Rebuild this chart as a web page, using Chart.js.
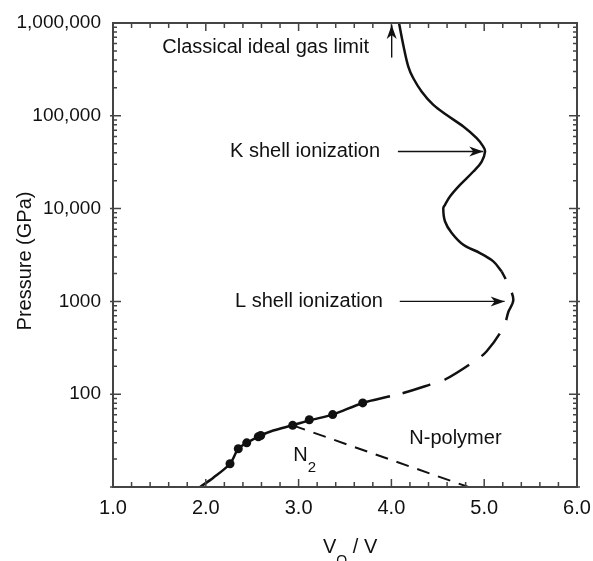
<!DOCTYPE html>
<html>
<head>
<meta charset="utf-8">
<script src="https://cdn.jsdelivr.net/npm/chart.js@4"></script>
<style>
html,body{margin:0;padding:0;background:#fff;}
canvas{display:block;}
</style>
</head>
<body>
<canvas id="eos" width="593" height="561"></canvas>
<script>
// nitrogen compression curve, V0/V against pressure (GPa)
const lowX  = [1.938, 2.081, 2.261, 2.350, 2.441, 2.573, 2.727, 2.936, 3.123, 3.367, 3.691, 3.985];
const lowY  = [10, 12.6, 17.8, 25.8, 29.9, 35.2, 40.6, 46.2, 52.4, 60.3, 80.5, 94.9];
const midX  = [3.985, 4.128, 4.416, 4.578, 4.865, 5.027, 5.213, 5.260, 5.314, 5.260, 5.189];
const midY  = [94.9, 103, 127, 144, 217, 290, 538, 769, 1040, 1510, 2100];
const highX = [5.189, 5.098, 4.955, 4.775, 4.650, 4.578, 4.559, 4.578, 4.631, 4.739, 4.883, 4.973, 5.009, 4.990, 4.919, 4.775, 4.596, 4.452, 4.327, 4.236, 4.182, 4.128, 4.082];
const highY = [2100, 2700, 3320, 4070, 5450, 7260, 10100, 11000, 13500, 18000, 25100, 32100, 41200, 46600, 57400, 76600, 102000, 131000, 182000, 254000, 339000, 579000, 1000000];
const dotX  = [2.261, 2.350, 2.441, 2.566, 2.592, 2.936, 3.115, 3.367, 3.691];
const dotY  = [17.8, 25.8, 29.9, 34.8, 35.9, 46.2, 53.1, 60.3, 80.5];
const phaseX = [2.936, 4.829];
const phaseY = [46.2, 10];

const xTicks = [1, 2, 3, 4, 5, 6];
const yTicks = [100, 1000, 10000, 100000, 1000000];
const yTickLabels = ['100', '1000', '10,000', '100,000', '1,000,000'];

const FONT = '"Liberation Sans", Arial, sans-serif';
const INK = '#111';
const AXIS = '#444';

const pts = (xs, ys) => xs.map((x, i) => ({ x, y: ys[i] }));

// annotation text (left edge, baseline) and arrows, in data units
const notes = [
  { text: 'Classical ideal gas limit', x: 1.531, y: 472000 },
  { text: 'K shell ionization', x: 2.261, y: 35800 },
  { text: 'L shell ionization', x: 2.315, y: 871 },
  { text: 'N-polymer', x: 4.193, y: 29.4 },
  { text: 'N', sub: '2', x: 2.943, y: 19.0 }
];
const arrows = [
  { from: [4.003, 424000], to: [4.003, 950000] },
  { from: [4.07, 41200], to: [4.99, 41200] },
  { from: [4.09, 1000], to: [5.22, 1000] }
];

function arrowHead(ctx, x1, y1, x2, y2){
  const a = Math.atan2(y2 - y1, x2 - x1), L = 14, W = 5, N = 10;
  const c = Math.cos(a), s = Math.sin(a);
  ctx.beginPath();
  ctx.moveTo(x2, y2);
  ctx.lineTo(x2 - L*c + W*s, y2 - L*s - W*c);
  ctx.lineTo(x2 - N*c, y2 - N*s);
  ctx.lineTo(x2 - L*c - W*s, y2 - L*s + W*c);
  ctx.closePath();
  ctx.fill();
}

const frame = {
  id: 'frame',
  afterDatasetsDraw(chart){
    const { ctx, chartArea: a, scales: { x, y } } = chart;
    ctx.save();
    ctx.strokeStyle = AXIS;
    ctx.lineWidth = 1.5;
    ctx.beginPath();
    for (let i = 0; i <= 25; i++){
      const px = x.getPixelForValue(1 + i*0.2);
      const len = i % 5 === 0 ? 8 : 5;
      ctx.moveTo(px, a.bottom); ctx.lineTo(px, a.bottom - len);
      ctx.moveTo(px, a.top); ctx.lineTo(px, a.top + len);
    }
    for (let d = 10; d < 1e6; d *= 10){
      for (let m = 1; m <= 9; m++){
        const py = y.getPixelForValue(d*m);
        const len = m === 1 ? 8 : 4, out = m === 1 ? 3 : 0;
        ctx.moveTo(a.left - out, py); ctx.lineTo(a.left + len, py);
        ctx.moveTo(a.right + out, py); ctx.lineTo(a.right - len, py);
      }
    }
    ctx.stroke();
    ctx.lineWidth = 2;
    ctx.strokeRect(a.left, a.top, a.right - a.left, a.bottom - a.top);

    // arrows
    ctx.strokeStyle = INK; ctx.fillStyle = INK; ctx.lineWidth = 1.4;
    arrows.forEach(r => {
      const x1 = x.getPixelForValue(r.from[0]), y1 = y.getPixelForValue(r.from[1]);
      const x2 = x.getPixelForValue(r.to[0]), y2 = y.getPixelForValue(r.to[1]);
      ctx.beginPath(); ctx.moveTo(x1, y1); ctx.lineTo(x2, y2); ctx.stroke();
      arrowHead(ctx, x1, y1, x2, y2);
    });

    // labels
    ctx.textBaseline = 'alphabetic'; ctx.textAlign = 'left';
    notes.forEach(n => {
      const px = x.getPixelForValue(n.x), py = y.getPixelForValue(n.y);
      ctx.font = '20px ' + FONT;
      ctx.fillText(n.text, px, py);
      if (n.sub){
        const w = ctx.measureText(n.text).width;
        ctx.font = '15px ' + FONT;
        ctx.fillText(n.sub, px + w, py + 11);
      }
    });

    // axis titles
    ctx.font = '20px ' + FONT;
    ctx.save();
    ctx.translate(31, 261);
    ctx.rotate(-Math.PI/2);
    ctx.textAlign = 'center';
    ctx.fillText('Pressure (GPa)', 0, 0);
    ctx.restore();
    ctx.fillText('V', 323, 553);
    let w = ctx.measureText('V').width;
    ctx.font = '14px ' + FONT;
    ctx.fillText('O', 323 + w, 565);
    w += ctx.measureText('O').width;
    ctx.font = '20px ' + FONT;
    ctx.fillText(' / V', 323 + w, 553);
    ctx.restore();
  }
};

new Chart(document.getElementById('eos'), {
  type: 'scatter',
  data: {
    datasets: [
      { data: pts(lowX, lowY), showLine: true, borderColor: INK, borderWidth: 2.5, tension: 0.3, pointRadius: 0 },
      { data: pts(midX, midY), showLine: true, borderColor: INK, borderWidth: 2.5, tension: 0.35, pointRadius: 0,
        borderDash: [29, 15], borderDashOffset: 31 },
      { data: pts(highX, highY), showLine: true, borderColor: INK, borderWidth: 2.5, tension: 0.35, pointRadius: 0 },
      { data: pts(phaseX, phaseY), showLine: true, borderColor: INK, borderWidth: 2, pointRadius: 0, borderDash: [13, 9] },
      { data: pts(dotX, dotY), showLine: false, pointRadius: 4.5, pointBackgroundColor: INK, pointBorderWidth: 0 }
    ]
  },
  options: {
    responsive: false,
    animation: false,
    events: [],
    layout: { padding: { top: 23, right: 16, left: 0, bottom: 0 } },
    plugins: { legend: { display: false }, tooltip: { enabled: false } },
    scales: {
      x: {
        type: 'linear', min: 1, max: 6,
        grid: { display: false }, border: { display: false },
        afterBuildTicks: s => { s.ticks = xTicks.map(v => ({ value: v })); },
        afterFit: s => { s.height = 74; s.paddingLeft = 0; s.paddingRight = 0; },
        ticks: { padding: 1, color: INK, font: { family: FONT, size: 20 }, callback: v => v.toFixed(1), maxRotation: 0 }
      },
      y: {
        type: 'logarithmic', min: 10, max: 1000000,
        grid: { display: false }, border: { display: false },
        afterBuildTicks: s => { s.ticks = yTicks.map(v => ({ value: v })); },
        afterFit: s => { s.width = 113; s.paddingTop = 0; s.paddingBottom = 0; },
        ticks: { padding: 4, color: INK, font: { family: FONT, size: 19 },
          callback: v => yTickLabels[yTicks.indexOf(v)] ?? '' }
      }
    }
  },
  plugins: [frame]
});
</script>
</body>
</html>
